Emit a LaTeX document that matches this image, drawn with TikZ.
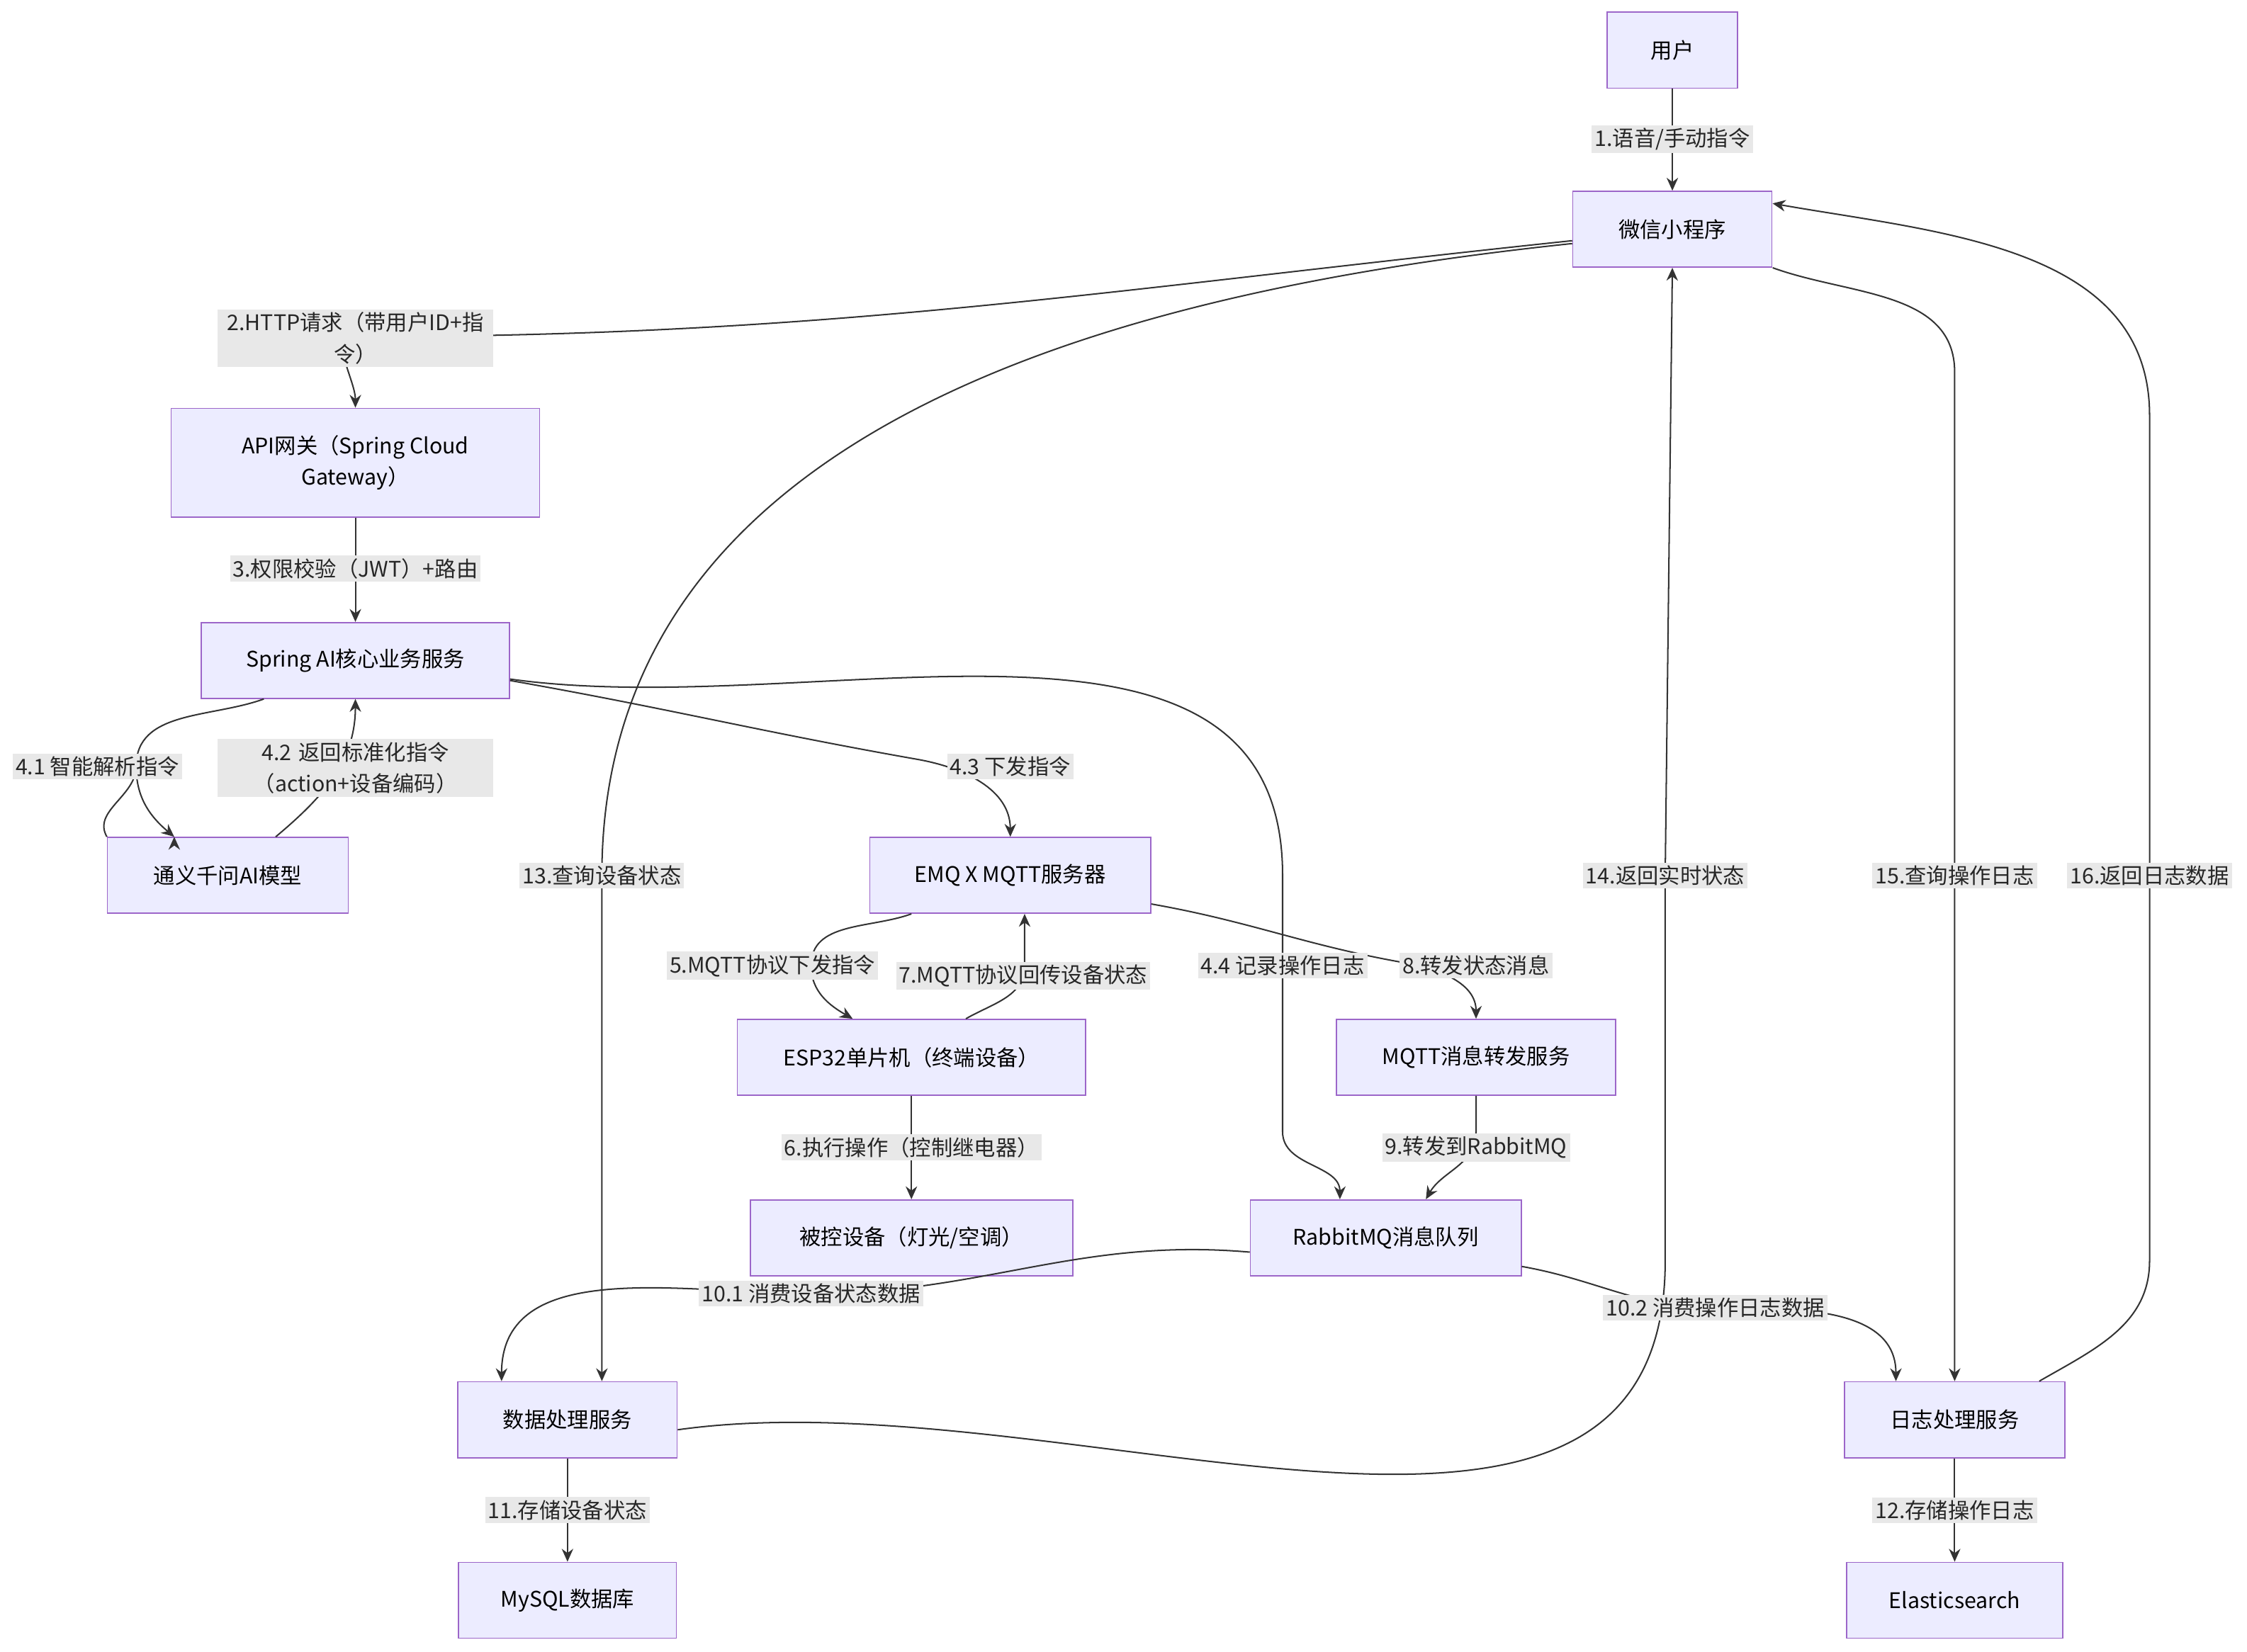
\documentclass[tikz,border=0pt]{standalone}
\usepackage{fontspec}
\setmainfont{Noto Sans CJK SC}
\usetikzlibrary{arrows.meta}
\begin{document}
\begin{tikzpicture}[x=1pt,y=-1pt,
  box/.style={draw=violet!70!blue!60,line width=0.8pt,fill={rgb,255:red,236;green,236;blue,255},minimum height=53pt,inner sep=4pt,align=center,font=\fontsize{15}{22}\selectfont},
  lab/.style={fill={rgb,255:red,232;green,232;blue,232},inner sep=2pt,align=center,font=\fontsize{15}{22}\selectfont,text=black!85},
  ln/.style={draw={rgb,255:red,51;green,51;blue,51},line width=1pt,-{Stealth[length=9pt,width=8pt]}}]
\useasboundingbox (0,0) rectangle (1568,1153);
\node[box,minimum width=91pt] (u) at (1167,35) {用户};
\node[box,minimum width=139pt] (wx) at (1167,160) {微信小程序};
\node[box,minimum width=257pt,minimum height=76pt] (api) at (248,323) {API网关（Spring Cloud\\Gateway）};
\node[box,minimum width=215pt] (sp) at (248,461) {Spring AI核心业务服务};
\node[box,minimum width=168pt] (ty) at (159,611) {通义千问AI模型};
\node[box,minimum width=196pt] (emq) at (705,611) {EMQ X MQTT服务器};
\node[box,minimum width=243pt] (esp) at (636,738) {ESP32单片机（终端设备）};
\node[box,minimum width=195pt] (mf) at (1030,738) {MQTT消息转发服务};
\node[box,minimum width=225pt] (dev) at (636,864) {被控设备（灯光/空调）};
\node[box,minimum width=189pt] (rq) at (967,864) {RabbitMQ消息队列};
\node[box,minimum width=153pt] (dp) at (396,991) {数据处理服务};
\node[box,minimum width=154pt] (lp) at (1364,991) {日志处理服务};
\node[box,minimum width=152pt] (my) at (396,1117) {MySQL数据库};
\node[box,minimum width=151pt] (es) at (1364,1117) {Elasticsearch};

\coordinate (c2) at (248,235);
\coordinate (c13) at (420,611);
\coordinate (c41) at (95,535);
\coordinate (c43) at (640,530);
\coordinate (c44) at (895,611);
\coordinate (c5) at (566,674);
\coordinate (c7) at (700,690);
\coordinate (c8) at (980,672);
\coordinate (c9) at (1030,790);
\coordinate (c101) at (566,903);
\coordinate (c102) at (1197,913);
\coordinate (c14) at (1162,611);
\coordinate (c15) at (1364,611);
\coordinate (c16) at (1500,611);

\draw[ln] (u) -- (wx);
\draw[ln] (wx.west) ++(0,8) to[out=186,in=0] (c2) to[out=180,in=90] (api.north);
\draw[ln] (wx.west) ++(0,10) to[out=186,in=90] (c13) -- (c13 |- dp.north);
\draw[ln] (api) -- (sp);
\draw[ln] (sp.south west) ++(44,0) to[out=200,in=90] (c41) to[out=-90,in=120] (ty.north west) ++(47,0);
\draw[ln] (c41) to[out=-90,in=140] ([xshift=47pt]ty.north west);
\draw[ln] ([xshift=-51pt]ty.north east) to[out=40,in=-90] (sp.south);
\draw[ln] ([yshift=-14pt]sp.east) to[out=-10,in=170] (c43) to[out=-10,in=90] (emq.north);
\draw[ln] ([yshift=-13pt]sp.east) to[out=-8,in=90] (c44) -- (895,790) to[out=-90,in=90] ([xshift=-32pt]rq.north);
\draw[ln] ([xshift=-69pt]emq.south) to[out=-160,in=90] (c5) to[out=-90,in=150] ([xshift=-41pt]esp.north);
\draw[ln] ([xshift=38pt]esp.north) to[out=30,in=-90] (715,674) -- ([xshift=10pt]emq.south);
\draw[ln] ([yshift=-20pt]emq.east) to[out=-10,in=170] (c8) to[out=-10,in=90] (mf.north);
\draw[ln] (esp) -- (dev);
\draw[ln] (mf.south) -- (c9) to[out=-90,in=60] ([xshift=28pt]rq.north);
\draw[ln] ([yshift=-10pt]rq.west) to[out=175,in=0] (c101) to[out=180,in=90] ([xshift=-46pt]dp.north);
\draw[ln] ([yshift=-20pt]rq.east) to[out=-10,in=180] (c102) to[out=0,in=90] ([xshift=-41pt]lp.north);
\draw[ln] (dp) -- (my);
\draw[ln] (lp) -- (es);
\draw[ln] ([yshift=-7pt]dp.east) to[out=8,in=-90] (1162,880) -- (c14) -- (wx.south);
\draw[ln] ([xshift=70pt]wx.south) to[out=-20,in=90] (1364,260) -- (c15) -- (lp.north);
\draw[ln] ([xshift=59pt]lp.north) to[out=30,in=-90] (1500,880) -- (c16) -- (1500,290) to[out=90,in=-10] ([yshift=18pt]wx.east);

\node[lab] at (1167,97) {1.语音/手动指令};
\node[lab,text width=188pt] at (248,236) {2.HTTP请求（带用户ID+指\\令）};
\node[lab] at (248,397) {3.权限校验（JWT）+路由};
\node[lab] at (68,535) {4.1 智能解析指令};
\node[lab,text width=188pt] at (248,536) {4.2 返回标准化指令\\（action+设备编码）};
\node[lab] at (705,535) {4.3 下发指令};
\node[lab] at (895,674) {4.4 记录操作日志};
\node[lab] at (539,674) {5.MQTT协议下发指令};
\node[lab] at (714,681) {7.MQTT协议回传设备状态};
\node[lab] at (1030,674) {8.转发状态消息};
\node[lab] at (636,801) {6.执行操作（控制继电器）};
\node[lab] at (1030,801) {9.转发到RabbitMQ};
\node[lab] at (566,903) {10.1 消费设备状态数据};
\node[lab] at (1197,913) {10.2 消费操作日志数据};
\node[lab] at (396,1054) {11.存储设备状态};
\node[lab] at (1364,1054) {12.存储操作日志};
\node[lab] at (420,611) {13.查询设备状态};
\node[lab] at (1162,611) {14.返回实时状态};
\node[lab] at (1364,611) {15.查询操作日志};
\node[lab] at (1500,611) {16.返回日志数据};
\end{tikzpicture}
\end{document}
